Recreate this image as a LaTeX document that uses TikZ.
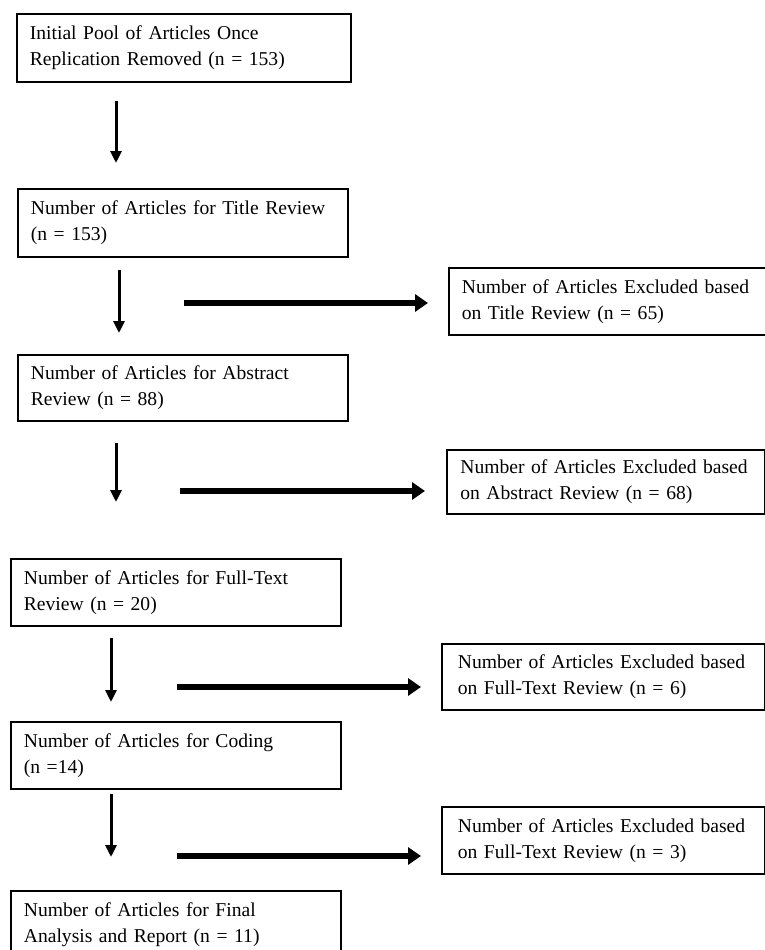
\documentclass[tikz,border=0pt]{standalone}
\usepackage{fontspec}
\setmainfont{Liberation Serif}
\usetikzlibrary{arrows.meta}

\newcommand\stagefont{\fontsize{19.6}{26}\selectfont\spaceskip=0.21em plus 0.1em\relax}

\tikzset{
	stage/.style={draw, line width=1.7pt, anchor=north west, align=left, inner xsep=13pt,
		minimum width=330pt, minimum height=67pt, text width=304pt, font=\stagefont},
	dropped/.style={stage, minimum width=317pt, text width=291pt},
	down/.style={line width=3pt, -{Triangle[length=12pt,width=11pt]}},
	side/.style={line width=6pt, -{Triangle[length=13pt,width=17pt]}},
}

\begin{document}
\begin{tikzpicture}[x=1pt, y=-1pt]
		%%%%% START %%%%%
		\clip (0, 0) rectangle (765, 950);
		
		\node[stage, minimum width=334pt, minimum height=68pt, text width=308pt] (pool) at (16, 13) {Initial Pool of Articles Once\\Replication Removed (n = 153)};
		\node[stage, minimum height=68pt] (title) at (17, 188) {Number of Articles for Title Review\\(n = 153)};
		\node[stage, minimum width=329pt, minimum height=66pt] (abstract) at (17, 354) {Number of Articles for Abstract\\Review (n = 88)};
		\node[stage] (fulltext) at (10, 558) {Number of Articles for Full-Text\\Review (n = 20)};
		\node[stage] (coding) at (10, 721) {Number of Articles for Coding\\(n =14)};
		\node[stage] (final) at (10, 890) {Number of Articles for Final\\Analysis and Report (n = 11)};
		
		\node[dropped, minimum width=316pt] (outtitle) at (448, 267) {Number of Articles Excluded based\\on Title Review (n = 65)};
		\node[dropped, minimum width=318pt, minimum height=64pt] (outabstract) at (446, 449) {Number of Articles Excluded based\\on Abstract Review (n = 68)};
		\node[dropped, minimum width=323pt, minimum height=66pt] (outfull) at (441, 643) {Number of Articles Excluded based\\on Full-Text Review (n = 6)};
		\node[dropped, minimum width=323pt] (outcoding) at (441, 806) {Number of Articles Excluded based\\on Full-Text Review (n = 3)};
		
		% down the left column
		\draw[down, shorten <=18pt, shorten >=25pt] ([xshift=100pt]pool.south west) -- ([xshift=99pt]title.north west);
		\draw[down, shorten <=12pt, shorten >=21pt] ([xshift=102pt]title.south west) -- ([xshift=102pt]abstract.north west);
		\draw[down, shorten <=21pt, shorten >=56pt] ([xshift=99pt]abstract.south west) -- ([xshift=106pt]fulltext.north west);
		\draw[down, shorten <=11pt, shorten >=19pt] ([xshift=101pt]fulltext.south west) -- ([xshift=101pt]coding.north west);
		\draw[down, shorten <=4pt, shorten >=33pt] ([xshift=101pt]coding.south west) -- ([xshift=101pt]final.north west);
		
		% across to the exclusions
		\coordinate (gotitle) at (184, 303);
		\coordinate (goabstract) at (180, 491);
		\coordinate (gofull) at (177, 687);
		\coordinate (gocoding) at (177, 856);
		\draw[side, shorten >=20pt] (gotitle) -- (gotitle -| outtitle.west);
		\draw[side, shorten >=21pt] (goabstract) -- (goabstract -| outabstract.west);
		\draw[side, shorten >=20pt] (gofull) -- (gofull -| outfull.west);
		\draw[side, shorten >=20pt] (gocoding) -- (gocoding -| outcoding.west);
		
		%%%%% END %%%%%
\end{tikzpicture}
\end{document}
